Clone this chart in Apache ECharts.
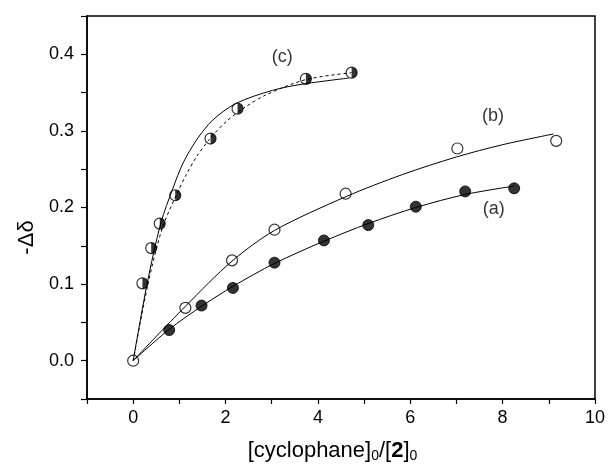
<!DOCTYPE html>
<html>
<head>
<meta charset="utf-8">
<script src="https://cdn.jsdelivr.net/npm/echarts@6/dist/echarts.min.js"></script>
<style>
html,body{margin:0;padding:0;background:#fff;}
#chart{width:608px;height:468px;}
</style>
</head>
<body>
<div id="chart"></div>
<script>
// measured points
const aX = [0.78, 1.48, 2.16, 3.06, 4.13, 5.09, 6.12, 7.19, 8.25];
const aY = [0.040, 0.072, 0.095, 0.128, 0.157, 0.177, 0.201, 0.221, 0.225];
const bX = [0, 1.13, 2.14, 3.06, 4.60, 7.02, 9.16];
const bY = [0, 0.069, 0.131, 0.171, 0.218, 0.277, 0.287];
const cX = [0.20, 0.39, 0.575, 0.91, 1.675, 2.26, 3.74, 4.73];
const cY = [0.101, 0.147, 0.179, 0.216, 0.290, 0.329, 0.368, 0.376];
// curves
const fitAX = [0, 0.78, 1.48, 2.16, 3.06, 4.13, 5.09, 6.12, 7.19, 8.25];
const fitAY = [0, 0.041, 0.071, 0.097, 0.127, 0.156, 0.179, 0.200, 0.217, 0.228];
const fitBX = [0, 1.13, 2.14, 3.06, 4.60, 5.83, 7.00, 8.00, 9.10];
const fitBY = [0, 0.071, 0.130, 0.170, 0.214, 0.243, 0.266, 0.282, 0.296];
const fitCX = [0, 0.30, 0.60, 0.86, 1.08, 1.37, 1.72, 2.23, 3.02, 3.66, 4.67];
const fitCY = [0, 0.100, 0.180, 0.225, 0.258, 0.288, 0.314, 0.336, 0.353, 0.361, 0.369];
const dashCX = [0, 0.32, 0.625, 0.935, 1.15, 1.37, 1.65, 2.01, 2.40, 2.875, 3.74, 4.73];
const dashCY = [0, 0.100, 0.172, 0.2164, 0.243, 0.266, 0.289, 0.312, 0.330, 0.347, 0.367, 0.376];
// curve labels
const labelText = ['(c)', '(b)', '(a)'];
const labelX = [3.23, 7.79, 7.81];
const labelY = [0.396, 0.320, 0.198];

const zip = (xs, ys) => xs.map((x, i) => [x, ys[i]]);
const FONT = 'Liberation Sans, Arial, sans-serif';

const chart = echarts.init(document.getElementById('chart'), null, {renderer: 'canvas'});
const lineBase = {type: 'line', showSymbol: false, symbol: 'none', smooth: 0.3,
  lineStyle: {color: '#000', width: 1}, silent: true, z: 2};
const halfPath = 'path://M0,0 A10,10 0 0,1 0,20 Z';

chart.setOption({
  animation: false,
  backgroundColor: '#fff',
  grid: {left: 87, right: 11, top: 16, bottom: 65, show: true, borderColor: '#000', borderWidth: 1.5, backgroundColor: 'transparent'},
  xAxis: {
    type: 'value', min: -1, max: 10, interval: 1,
    axisLine: {show: true, onZero: false, lineStyle: {color: '#000', width: 1.5}},
    axisTick: {show: true, inside: false, length: 5, lineStyle: {color: '#000', width: 1.2}},
    splitLine: {show: false},
    axisLabel: {color: '#000', fontSize: 18, fontFamily: FONT, margin: 10,
      formatter: v => { const r = Math.round(v); return (r >= 0 && r % 2 === 0) ? String(r) : ''; }},
    name: '[cyclophane]{sub|0}/[{b|2}]{sub|0}',
    nameLocation: 'middle', nameGap: 40,
    nameTextStyle: {color: '#000', fontSize: 22, fontFamily: FONT, padding: [0, 17, 0, 0],
      rich: {sub: {fontSize: 14, fontFamily: FONT, color: '#000', padding: [10, 0, 0, 0]},
             b: {fontSize: 22, fontWeight: 'bold', fontFamily: FONT, color: '#000'}}}
  },
  yAxis: {
    type: 'value', min: -0.05, max: 0.45, interval: 0.05,
    axisLine: {show: true, onZero: false, lineStyle: {color: '#000', width: 1.5}},
    axisTick: {show: true, inside: false, length: 6, lineStyle: {color: '#000', width: 1.2}},
    splitLine: {show: false},
    axisLabel: {color: '#000', fontSize: 18, fontFamily: FONT, margin: 13,
      formatter: v => { const k = Math.round(v * 100); return (k >= 0 && k % 10 === 0 && k <= 40) ? (k / 100).toFixed(1) : ''; }},
    name: '-Δδ', nameLocation: 'middle', nameGap: 45, nameRotate: 90,
    nameTextStyle: {color: '#000', fontSize: 22, fontFamily: FONT, padding: [0, 60, 0, 0]}
  },
  series: [
    Object.assign({}, lineBase, {data: zip(fitAX, fitAY)}),
    Object.assign({}, lineBase, {data: zip(fitBX, fitBY)}),
    Object.assign({}, lineBase, {data: zip(fitCX, fitCY)}),
    Object.assign({}, lineBase, {data: zip(dashCX, dashCY), lineStyle: {color: '#000', width: 1, type: [3, 3]}}),
    {type: 'scatter', data: zip(aX, aY), symbol: 'circle', symbolSize: 11,
      itemStyle: {color: '#000', borderColor: '#000', borderWidth: 1}, z: 5, silent: true},
    {type: 'scatter', data: zip(bX, bY), symbol: 'circle', symbolSize: 11,
      itemStyle: {color: 'rgba(255,255,255,0)', borderColor: '#000', borderWidth: 1.2}, z: 5, silent: true},
    {type: 'scatter', data: zip(cX, cY), symbol: 'circle', symbolSize: 11,
      itemStyle: {color: 'rgba(255,255,255,0)', borderColor: '#000', borderWidth: 1.2}, z: 5, silent: true},
    {type: 'scatter', data: zip(cX, cY), symbol: halfPath, symbolSize: [5.5, 11], symbolOffset: [2.75, 0],
      itemStyle: {color: '#000'}, z: 6, silent: true},
    {type: 'scatter', data: labelX.map((x, i) => ({value: [x, labelY[i]], name: labelText[i]})),
      symbolSize: 0, silent: true, z: 7,
      label: {show: true, position: 'inside', formatter: p => p.name, color: '#000', fontSize: 18, fontFamily: FONT}}
  ]
});
</script>
</body>
</html>
